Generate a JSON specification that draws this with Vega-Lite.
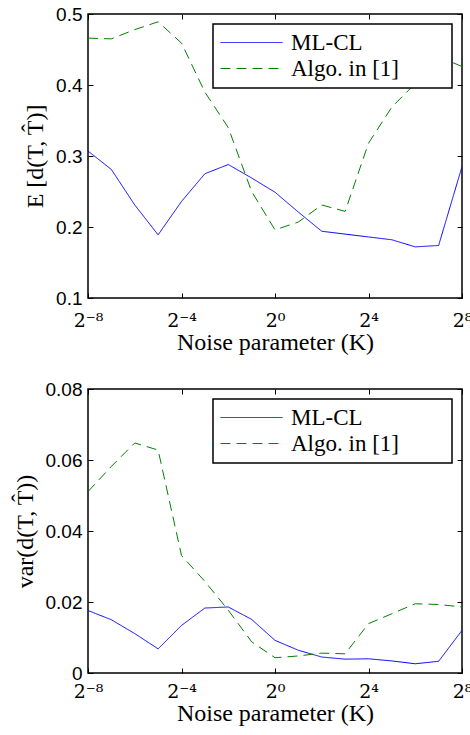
{
  "$schema": "https://vega.github.io/schema/vega-lite/v6.json",
  "background": "white",
  "padding": {"left": 12, "top": 4, "right": 0, "bottom": 2},
  "datasets": {
    "mean": [
      {"log2K": -8, "method": "ML-CL", "value": 0.307},
      {"log2K": -7, "method": "ML-CL", "value": 0.281},
      {"log2K": -6, "method": "ML-CL", "value": 0.231},
      {"log2K": -5, "method": "ML-CL", "value": 0.189},
      {"log2K": -4, "method": "ML-CL", "value": 0.236},
      {"log2K": -3, "method": "ML-CL", "value": 0.275},
      {"log2K": -2, "method": "ML-CL", "value": 0.288},
      {"log2K": -1, "method": "ML-CL", "value": 0.269},
      {"log2K": 0, "method": "ML-CL", "value": 0.249},
      {"log2K": 1, "method": "ML-CL", "value": 0.221},
      {"log2K": 2, "method": "ML-CL", "value": 0.194},
      {"log2K": 3, "method": "ML-CL", "value": 0.190},
      {"log2K": 4, "method": "ML-CL", "value": 0.186},
      {"log2K": 5, "method": "ML-CL", "value": 0.182},
      {"log2K": 6, "method": "ML-CL", "value": 0.172},
      {"log2K": 7, "method": "ML-CL", "value": 0.174},
      {"log2K": 8, "method": "ML-CL", "value": 0.285},
      {"log2K": -8, "method": "Algo. in [1]", "value": 0.466},
      {"log2K": -7, "method": "Algo. in [1]", "value": 0.465},
      {"log2K": -6, "method": "Algo. in [1]", "value": 0.478},
      {"log2K": -5, "method": "Algo. in [1]", "value": 0.489},
      {"log2K": -4, "method": "Algo. in [1]", "value": 0.459},
      {"log2K": -3, "method": "Algo. in [1]", "value": 0.390},
      {"log2K": -2, "method": "Algo. in [1]", "value": 0.340},
      {"log2K": -1, "method": "Algo. in [1]", "value": 0.250},
      {"log2K": 0, "method": "Algo. in [1]", "value": 0.196},
      {"log2K": 1, "method": "Algo. in [1]", "value": 0.207},
      {"log2K": 2, "method": "Algo. in [1]", "value": 0.231},
      {"log2K": 3, "method": "Algo. in [1]", "value": 0.222},
      {"log2K": 4, "method": "Algo. in [1]", "value": 0.318},
      {"log2K": 5, "method": "Algo. in [1]", "value": 0.369},
      {"log2K": 6, "method": "Algo. in [1]", "value": 0.402},
      {"log2K": 7, "method": "Algo. in [1]", "value": 0.440},
      {"log2K": 8, "method": "Algo. in [1]", "value": 0.426}
    ],
    "var": [
      {"log2K": -8, "method": "ML-CL", "value": 0.0176},
      {"log2K": -7, "method": "ML-CL", "value": 0.0150},
      {"log2K": -6, "method": "ML-CL", "value": 0.0111},
      {"log2K": -5, "method": "ML-CL", "value": 0.0068},
      {"log2K": -4, "method": "ML-CL", "value": 0.0134},
      {"log2K": -3, "method": "ML-CL", "value": 0.0183},
      {"log2K": -2, "method": "ML-CL", "value": 0.0186},
      {"log2K": -1, "method": "ML-CL", "value": 0.0151},
      {"log2K": 0, "method": "ML-CL", "value": 0.0092},
      {"log2K": 1, "method": "ML-CL", "value": 0.0064},
      {"log2K": 2, "method": "ML-CL", "value": 0.0045},
      {"log2K": 3, "method": "ML-CL", "value": 0.0039},
      {"log2K": 4, "method": "ML-CL", "value": 0.0040},
      {"log2K": 5, "method": "ML-CL", "value": 0.0034},
      {"log2K": 6, "method": "ML-CL", "value": 0.0026},
      {"log2K": 7, "method": "ML-CL", "value": 0.0033},
      {"log2K": 8, "method": "ML-CL", "value": 0.0120},
      {"log2K": -8, "method": "Algo. in [1]", "value": 0.0511},
      {"log2K": -7, "method": "Algo. in [1]", "value": 0.0582},
      {"log2K": -6, "method": "Algo. in [1]", "value": 0.0648},
      {"log2K": -5, "method": "Algo. in [1]", "value": 0.0628},
      {"log2K": -4, "method": "Algo. in [1]", "value": 0.0331},
      {"log2K": -3, "method": "Algo. in [1]", "value": 0.0258},
      {"log2K": -2, "method": "Algo. in [1]", "value": 0.0177},
      {"log2K": -1, "method": "Algo. in [1]", "value": 0.0088},
      {"log2K": 0, "method": "Algo. in [1]", "value": 0.0043},
      {"log2K": 1, "method": "Algo. in [1]", "value": 0.0048},
      {"log2K": 2, "method": "Algo. in [1]", "value": 0.0056},
      {"log2K": 3, "method": "Algo. in [1]", "value": 0.0054},
      {"log2K": 4, "method": "Algo. in [1]", "value": 0.0139},
      {"log2K": 5, "method": "Algo. in [1]", "value": 0.0167},
      {"log2K": 6, "method": "Algo. in [1]", "value": 0.0195},
      {"log2K": 7, "method": "Algo. in [1]", "value": 0.0193},
      {"log2K": 8, "method": "Algo. in [1]", "value": 0.0186}
    ]
  },
  "config": {
    "view": {"stroke": "black", "strokeWidth": 1.5},
    "axis": {
      "grid": false,
      "domain": false,
      "tickColor": "black",
      "tickSize": -5,
      "tickWidth": 1,
      "labelColor": "black",
      "titleColor": "black",
      "titleFontWeight": "normal",
      "titleFont": "Liberation Serif",
      "titleFontSize": 24
    },
    "legend": {
      "orient": "top-right",
      "offset": 10,
      "strokeColor": "black",
      "strokeWidth": 1.5,
      "fillColor": "white",
      "padding": 7,
      "labelFont": "Liberation Serif",
      "labelFontSize": 23,
      "labelColor": "black",
      "labelLimit": 400,
      "labelOffset": 8,
      "symbolType": "stroke",
      "symbolSize": 3844,
      "symbolStrokeWidth": 1,
      "clipHeight": 23,
      "rowPadding": 2,
      "title": null
    }
  },
  "spacing": 24,
  "vconcat": [
    {
      "width": 374,
      "height": 284,
      "data": {"name": "mean"},
      "layer": [
        {
          "mark": {"type": "line", "strokeWidth": 1, "clip": true},
          "encoding": {
            "x": {
              "field": "log2K", "type": "quantitative",
              "scale": {"domain": [-8, 8], "nice": false, "zero": false},
              "axis": {
                "values": [-8, -4, 0, 4, 8],
                "labelExpr": "datum.value == -8 ? '2⁻⁸' : datum.value == -4 ? '2⁻⁴' : datum.value == 0 ? '2⁰' : datum.value == 4 ? '2⁴' : '2⁸'",
                "labelFont": "DejaVu Serif", "labelFontSize": 19, "labelPadding": 18,
                "labelFlush": false,
                "title": "Noise parameter (K)", "titlePadding": 0
              }
            },
            "y": {
              "field": "value", "type": "quantitative",
              "scale": {"domain": [0.1, 0.5], "nice": false, "zero": false},
              "axis": {
                "values": [0.1, 0.2, 0.3, 0.4, 0.5],
                "format": ".1f",
                "labelFont": "Liberation Sans", "labelFontSize": 19, "labelPadding": 11,
                "labelFlush": false,
                "title": "E [d(T, T̂)]", "titlePadding": 8
              }
            },
            "color": {
              "field": "method", "type": "nominal",
              "scale": {"domain": ["ML-CL", "Algo. in [1]"], "range": ["#0000ff", "#008000"]},
              "legend": {"labelExpr": "datum.label + '\u00a0\u00a0\u00a0\u00a0\u00a0\u00a0\u00a0\u00a0\u200b'"}
            },
            "strokeDash": {
              "field": "method", "type": "nominal",
              "scale": {"domain": ["ML-CL", "Algo. in [1]"], "range": [[1, 0], [10, 6]]},
              "legend": {"labelExpr": "datum.label + '\u00a0\u00a0\u00a0\u00a0\u00a0\u00a0\u00a0\u00a0\u200b'"}
            }
          }
        },
        {
          "mark": {"type": "line", "opacity": 0},
          "encoding": {
            "x": {"field": "log2K", "type": "quantitative",
              "axis": {"orient": "top", "values": [-8, -4, 0, 4, 8], "labels": false, "title": null}},
            "y": {"field": "value", "type": "quantitative",
              "axis": {"orient": "right", "values": [0.1, 0.2, 0.3, 0.4, 0.5], "labels": false, "title": null}}
          }
        }
      ],
      "resolve": {"axis": {"x": "independent", "y": "independent"}}
    },
    {
      "width": 374,
      "height": 284,
      "data": {"name": "var"},
      "layer": [
        {
          "mark": {"type": "line", "strokeWidth": 1, "clip": true},
          "encoding": {
            "x": {
              "field": "log2K", "type": "quantitative",
              "scale": {"domain": [-8, 8], "nice": false, "zero": false},
              "axis": {
                "values": [-8, -4, 0, 4, 8],
                "labelExpr": "datum.value == -8 ? '2⁻⁸' : datum.value == -4 ? '2⁻⁴' : datum.value == 0 ? '2⁰' : datum.value == 4 ? '2⁴' : '2⁸'",
                "labelFont": "DejaVu Serif", "labelFontSize": 19, "labelPadding": 14,
                "labelFlush": false,
                "title": "Noise parameter (K)", "titlePadding": 0
              }
            },
            "y": {
              "field": "value", "type": "quantitative",
              "scale": {"domain": [0, 0.08], "nice": false, "zero": false},
              "axis": {
                "values": [0, 0.02, 0.04, 0.06, 0.08],
                "labelExpr": "datum.value == 0 ? '0' : format(datum.value, '.2f')",
                "labelFont": "Liberation Sans", "labelFontSize": 19, "labelPadding": 11,
                "labelFlush": false,
                "title": "var(d(T, T̂))", "titlePadding": 8
              }
            },
            "color": {
              "field": "method", "type": "nominal",
              "scale": {"domain": ["ML-CL", "Algo. in [1]"], "range": ["#0000ff", "#008000"]},
              "legend": {"labelExpr": "datum.label + '\u00a0\u00a0\u00a0\u00a0\u00a0\u00a0\u00a0\u00a0\u200b'"}
            },
            "strokeDash": {
              "field": "method", "type": "nominal",
              "scale": {"domain": ["ML-CL", "Algo. in [1]"], "range": [[1, 0], [10, 6]]},
              "legend": {"labelExpr": "datum.label + '\u00a0\u00a0\u00a0\u00a0\u00a0\u00a0\u00a0\u00a0\u200b'"}
            }
          }
        },
        {
          "mark": {"type": "line", "opacity": 0},
          "encoding": {
            "x": {"field": "log2K", "type": "quantitative",
              "axis": {"orient": "top", "values": [-8, -4, 0, 4, 8], "labels": false, "title": null}},
            "y": {"field": "value", "type": "quantitative",
              "axis": {"orient": "right", "values": [0, 0.02, 0.04, 0.06, 0.08], "labels": false, "title": null}}
          }
        }
      ],
      "resolve": {"axis": {"x": "independent", "y": "independent"}}
    }
  ],
  "resolve": {"legend": {"color": "independent", "strokeDash": "independent"}}
}
